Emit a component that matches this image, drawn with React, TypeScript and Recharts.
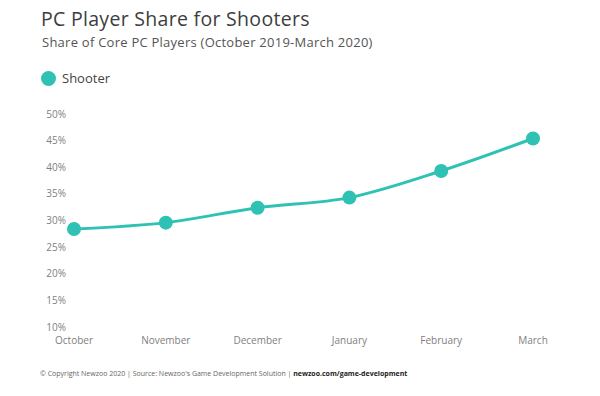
import React from 'react';
import { LineChart, Line, XAxis, YAxis } from 'recharts';

const months = ['October', 'November', 'December', 'January', 'February', 'March'];
const shooterShare = [28.4, 29.6, 32.4, 34.3, 39.3, 45.4];
const yTicks = [10, 15, 20, 25, 30, 35, 40, 45, 50];

const TEAL = '#2fc2b4';
const FONT = '"Open Sans", Lato, sans-serif';

const data = months.map((m, i) => ({ month: m, shooter: shooterShare[i] }));

export default function App() {
    return (
        <div style={{ position: 'relative', width: 600, height: 396, margin: -8, background: '#fff', fontFamily: FONT, overflow: 'hidden' }}>
            <div style={{ position: 'absolute', left: 41, top: 5, fontSize: 19.5, color: '#3d3d3d', fontWeight: 500, letterSpacing: 0.3 }}>
                PC Player Share for Shooters
            </div>
            <div style={{ position: 'absolute', left: 42, top: 33, fontSize: 13, color: '#555', letterSpacing: 0.25 }}>
                Share of Core PC Players (October 2019-March 2020)
            </div>
            {/* legend */}
            <div style={{ position: 'absolute', left: 41, top: 69, display: 'flex', alignItems: 'center' }}>
                <span style={{ display: 'inline-block', width: 15, height: 15, borderRadius: '50%', background: TEAL }} />
                <span style={{ marginLeft: 6, fontSize: 13, color: '#444' }}>Shooter</span>
            </div>

            <div style={{ position: 'absolute', left: 0, top: 0 }}>
                <LineChart width={600} height={396} data={data} margin={{ top: 114, right: 67, left: 0, bottom: 39 }}>
                    <XAxis
                        dataKey="month"
                        axisLine={false}
                        tickLine={false}
                        height={30}
                        interval={0}
                        tick={{ fill: '#808080', fontSize: 10, fontFamily: FONT }}
                        tickMargin={4}
                    />
                    <YAxis
                        domain={[10, 50]}
                        ticks={yTicks}
                        axisLine={false}
                        tickLine={false}
                        width={74}
                        tickFormatter={(v) => `${v}%`}
                        tick={{ fill: '#808080', fontSize: 10, fontFamily: FONT }}
                    />
                    <Line
                        type="monotone"
                        dataKey="shooter"
                        stroke={TEAL}
                        strokeWidth={3}
                        dot={{ r: 7, fill: TEAL, stroke: TEAL, strokeWidth: 0 }}
                        activeDot={false}
                        isAnimationActive={false}
                    />
                </LineChart>
            </div>

            <div style={{ position: 'absolute', left: 40, top: 369, fontSize: 7, color: '#666' }}>
                © Copyright Newzoo 2020 | Source: Newzoo's Game Development Solution | <b style={{ color: '#222' }}>newzoo.com/game-development</b>
            </div>
        </div>
    );
}
